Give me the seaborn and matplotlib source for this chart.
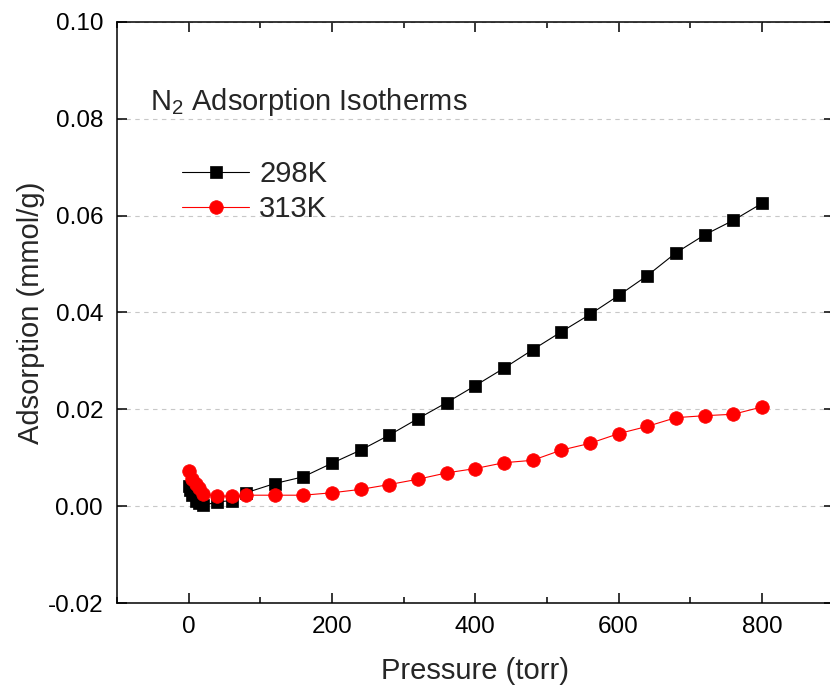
import matplotlib
matplotlib.use('Agg')
import matplotlib.pyplot as plt
import seaborn as sns
import pandas as pd
from matplotlib.ticker import MultipleLocator, FormatStrFormatter

# ---- data ----
pressure_298 = [0, 2, 5, 10, 15, 20, 40, 60, 80, 120, 160, 200, 240, 280, 320, 360,
                400, 440, 480, 520, 560, 600, 640, 680, 720, 760, 800]
adsorption_298 = [0.0043, 0.0033, 0.0023, 0.0012, 0.0006, 0.0002, 0.0009, 0.0012, 0.0028,
                  0.0047, 0.0061, 0.0089, 0.0116, 0.0147, 0.0181, 0.0214, 0.0249, 0.0285,
                  0.0323, 0.0360, 0.0396, 0.0435, 0.0476, 0.0523, 0.0560, 0.0590, 0.0625]
pressure_313 = [1, 5, 10, 15, 20, 40, 60, 80, 120, 160, 200, 240, 280, 320, 360,
                400, 440, 480, 520, 560, 600, 640, 680, 720, 760, 800]
adsorption_313 = [0.0072, 0.0057, 0.0047, 0.0037, 0.0026, 0.0021, 0.0021, 0.0023,
                  0.0023, 0.0023, 0.0028, 0.0035, 0.0045, 0.0056, 0.0069, 0.0078, 0.0090,
                  0.0095, 0.0116, 0.0130, 0.0150, 0.0165, 0.0183, 0.0187, 0.0190, 0.0205]
series_labels = ["298K", "313K"]
title_text = r"N$_2$ Adsorption Isotherms"
x_label = "Pressure (torr)"
y_label = "Adsorption (mmol/g)"

sns.set_style("white")
plt.rcParams['font.family'] = ['Liberation Sans', 'DejaVu Sans']
plt.rcParams['mathtext.default'] = 'regular'
plt.rcParams['axes.unicode_minus'] = False

df298 = pd.DataFrame({"Pressure": pressure_298, "Adsorption": adsorption_298})
df313 = pd.DataFrame({"Pressure": pressure_313, "Adsorption": adsorption_313})

fig = plt.figure(figsize=(8.30, 6.87), dpi=100)
ax = fig.add_axes([117 / 830, 1 - 603.3 / 687, 716.6 / 830, (603.3 - 21.6) / 687])

ax.yaxis.grid(True, linestyle=(0, (4, 4)), color='#c8c8c8', linewidth=0.8)
ax.set_axisbelow(True)

sns.lineplot(data=df298, x="Pressure", y="Adsorption", ax=ax, color='black',
             marker='s', markersize=8.8, markeredgecolor='black', markeredgewidth=0.5,
             linewidth=0.8, estimator=None, sort=False, label=series_labels[0])
sns.lineplot(data=df313, x="Pressure", y="Adsorption", ax=ax, color='#ff0000',
             marker='o', markersize=9.8, markeredgecolor='#ff0000', markeredgewidth=0.5,
             linewidth=0.8, estimator=None, sort=False, label=series_labels[1])

ax.set_xlim(-100, 900)
ax.set_ylim(-0.02, 0.10)
ax.xaxis.set_major_locator(MultipleLocator(200))
ax.xaxis.set_minor_locator(MultipleLocator(100))
ax.yaxis.set_major_locator(MultipleLocator(0.02))
ax.yaxis.set_major_formatter(FormatStrFormatter('%.2f'))

for s in ax.spines.values():
    s.set_visible(True)
    s.set_linewidth(1.1)
    s.set_color('black')

ax.tick_params(which='both', direction='in', top=True, right=True, bottom=True, left=True,
               width=1.1, colors='black')
ax.tick_params(which='major', length=7, labelsize=17.5, pad=10)
ax.tick_params(which='minor', length=4)
ax.tick_params(axis='x', which='major', pad=9)

ax.set_xlabel(x_label, fontsize=21, labelpad=14)
ax.set_ylabel(y_label, fontsize=21, labelpad=2)

leg = ax.legend(loc='upper left', bbox_to_anchor=(182 / 830, 1 - 160 / 687),
                bbox_transform=fig.transFigure, frameon=False, fontsize=21,
                handlelength=2.3, handletextpad=0.35, borderpad=0, borderaxespad=0,
                labelspacing=0.25)

fig.text(150 / 830, 1 - 110 / 687, title_text, fontsize=21, va='baseline', ha='left')

fig.savefig('out.png', dpi=100)
